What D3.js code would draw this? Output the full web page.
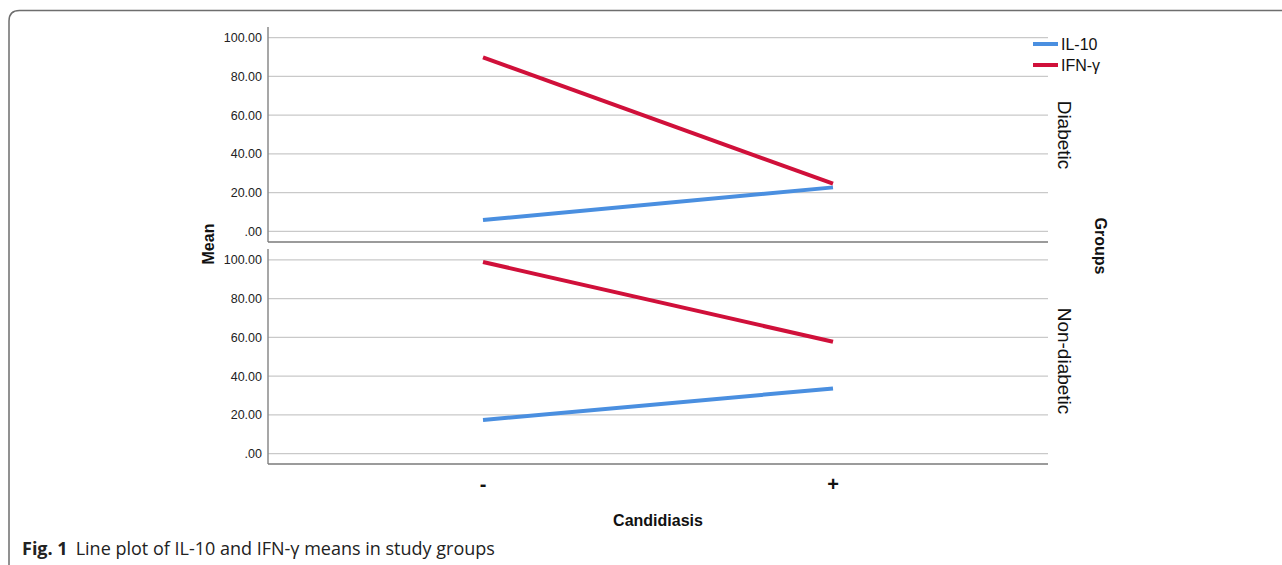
<!DOCTYPE html>
<html><head><meta charset="utf-8">
<script src="https://cdn.jsdelivr.net/npm/d3@7"></script>
<style>body{margin:0;background:#fff}svg{display:block}</style>
</head><body>
<svg id="c" width="1282" height="565"></svg>
<script>
const categories = ["-", "+"];
const groups = ["Diabetic", "Non-diabetic"];
const seriesNames = ["IL-10", "IFN-γ"];
const il10 = { "Diabetic": [5.8, 22.7], "Non-diabetic": [17.3, 33.6] };
const ifng = { "Diabetic": [89.8, 24.6], "Non-diabetic": [98.9, 57.7] };
const yTicks = [0, 20, 40, 60, 80, 100];
const colors = ["#4a8fe0", "#d0103a"];

const svg = d3.select("#c");
const font = "'Liberation Sans', Arial, sans-serif";

svg.append("path")
  .attr("d", "M9,570 L9,21 Q9,10.5 19.5,10.5 L1290,10.5")
  .attr("fill", "none").attr("stroke", "#6e6e6e").attr("stroke-width", 1.5);

const x = d3.scalePoint().domain(categories).range([483, 833]);
const left = 268, right = 1048;
const panels = [
  { g: "Diabetic", top: 27, bottom: 242, dom: [-5.5, 105.5], labelY: 135 },
  { g: "Non-diabetic", top: 249, bottom: 464, dom: [-5.4, 105.6], labelY: 361 }
];

panels.forEach(p => {
  const y = d3.scaleLinear().domain(p.dom).range([p.bottom, p.top]);
  const g = svg.append("g");
  g.selectAll("line.grid").data(yTicks).join("line")
    .attr("x1", left).attr("x2", right)
    .attr("y1", d => y(d)).attr("y2", d => y(d))
    .attr("stroke", "#c9c9c9").attr("stroke-width", 1.2);
  const ax = g.append("g").attr("transform", `translate(${left},0)`)
    .call(d3.axisLeft(y).tickValues(yTicks).tickSize(0).tickPadding(6)
      .tickFormat(d => d === 0 ? ".00" : d3.format(".2f")(d)));
  ax.select(".domain").remove();
  ax.selectAll("text").attr("font-family", font).attr("font-size", 12.5).attr("fill", "#222");
  g.append("line").attr("x1", left).attr("x2", left).attr("y1", p.top).attr("y2", p.bottom)
    .attr("stroke", "#8a8a8a").attr("stroke-width", 1.5);
  g.append("line").attr("x1", left).attr("x2", right).attr("y1", p.bottom).attr("y2", p.bottom)
    .attr("stroke", "#7a7a7a").attr("stroke-width", 1.5);
  const line = d3.line().x((d, i) => x(categories[i])).y(d => y(d));
  [il10[p.g], ifng[p.g]].forEach((vals, i) => {
    g.append("path").attr("d", line(vals)).attr("fill", "none")
      .attr("stroke", colors[i]).attr("stroke-width", 4);
  });
  svg.append("text").attr("transform", `translate(1058,${p.labelY}) rotate(90)`)
    .attr("text-anchor", "middle").attr("font-family", font).attr("font-size", 19)
    .attr("fill", "#111").text(p.g);
});

svg.selectAll("text.xt").data(categories).join("text")
  .attr("x", d => x(d)).attr("y", 491).attr("text-anchor", "middle")
  .attr("font-family", font).attr("font-size", 20).attr("font-weight", "bold")
  .attr("fill", "#111").text(d => d);

svg.append("text").attr("x", (left + right) / 2).attr("y", 526).attr("text-anchor", "middle")
  .attr("font-family", font).attr("font-size", 16).attr("font-weight", "bold").attr("fill", "#111")
  .text("Candidiasis");
svg.append("text").attr("transform", "translate(214,244) rotate(-90)").attr("text-anchor", "middle")
  .attr("font-family", font).attr("font-size", 16).attr("font-weight", "bold").attr("fill", "#111")
  .text("Mean");
svg.append("text").attr("transform", "translate(1095,246) rotate(90)").attr("text-anchor", "middle")
  .attr("font-family", font).attr("font-size", 16).attr("font-weight", "bold").attr("fill", "#111")
  .text("Groups");

const lg = svg.append("g");
seriesNames.forEach((s, i) => {
  const yy = 44 + i * 21;
  lg.append("line").attr("x1", 1033).attr("x2", 1058).attr("y1", yy).attr("y2", yy)
    .attr("stroke", colors[i]).attr("stroke-width", 4);
  lg.append("text").attr("x", 1061).attr("y", yy + 6).attr("font-family", font)
    .attr("font-size", 16).attr("fill", "#111").text(s);
});

const cap = svg.append("text").attr("x", 22).attr("y", 555)
  .attr("font-family", "'Open Sans', sans-serif").attr("font-size", 18).attr("fill", "#222");
cap.append("tspan").attr("font-weight", "bold").text("Fig. 1");
cap.append("tspan").attr("dx", 8).text("Line plot of IL-10 and IFN-γ means in study groups");
</script>
</body></html>
